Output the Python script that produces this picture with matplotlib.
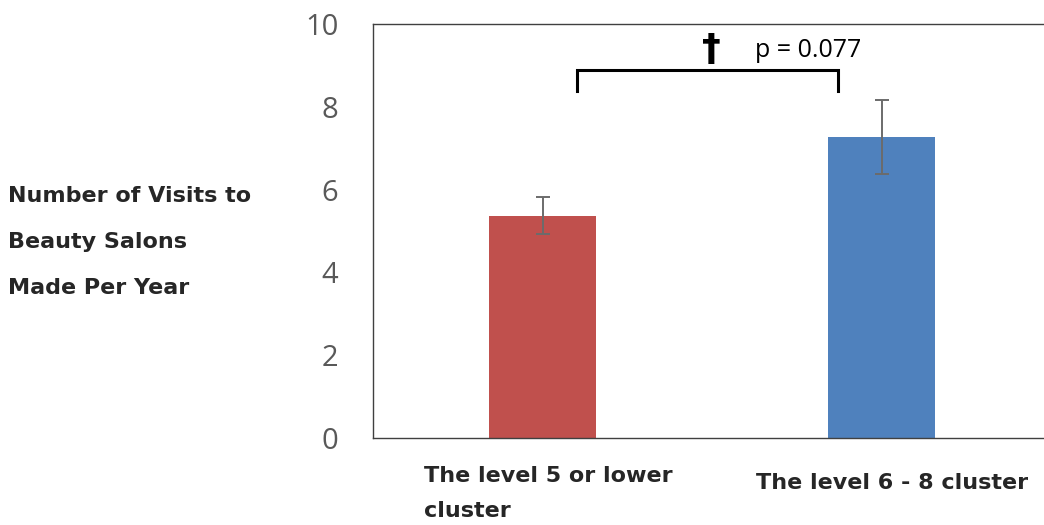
import matplotlib
matplotlib.use("Agg")
import matplotlib.pyplot as plt

categories = ["The level 5 or lower\ncluster", "The level 6 - 8 cluster"]
means = [5.37, 7.27]
errors = [0.45, 0.89]
bar_colors = ["#C0504D", "#4F81BD"]
yticks = [0, 2, 4, 6, 8, 10]
ylabel_lines = ["Number of Visits to", "Beauty Salons", "Made Per Year"]
bracket_x = [0.103, 0.872]
bracket_y = [8.38, 8.89]
p_text = "p = 0.077"

W, H = 1044, 525
fig = plt.figure(figsize=(W / 100, H / 100), dpi=100)
ax = fig.add_axes([373 / W, 1 - 438 / H, (1051 - 373) / W, (438 - 24) / H])

x = list(range(len(categories)))
ax.bar(x, means, width=0.314, color=bar_colors, edgecolor="none", zorder=2)
ax.errorbar(x, means, yerr=errors, fmt="none", ecolor="#6b6b6b",
            elinewidth=1.4, capsize=5, capthick=1.4, zorder=3)

ax.set_xlim(-0.5, 1.5)
ax.set_ylim(0, 10)
ax.set_yticks(yticks)
ax.set_yticklabels([str(v) for v in yticks], fontfamily="Open Sans",
                   fontsize=21, color="#595959")
ax.tick_params(axis="y", length=0, pad=25)
ax.set_xticks([])

for s in ["top", "left", "bottom"]:
    ax.spines[s].set_color("#404040")
    ax.spines[s].set_linewidth(1.0)
ax.spines["right"].set_visible(False)

# category labels
label_offsets = [(0.018, -0.068), (0.032, -0.085)]
for xi, lab, (dx, dy) in zip(x, categories, label_offsets):
    ax.text(xi + dx, dy, lab, transform=ax.get_xaxis_transform(),
            ha="center", va="top", multialignment="left",
            fontfamily="DejaVu Sans", fontweight="bold", fontsize=16,
            color="#262626", linespacing=1.95)

# significance bracket
ax.plot([bracket_x[0], bracket_x[0], bracket_x[1], bracket_x[1]],
        [bracket_y[0], bracket_y[1], bracket_y[1], bracket_y[0]],
        color="black", lw=2.2, solid_joinstyle="miter", clip_on=False, zorder=4)
ax.text(0.498, 9.37, "\u2020", ha="center", va="center", fontsize=27,
        fontweight="bold", fontfamily="DejaVu Sans", color="black")
ax.text(0.627, 9.37, p_text, ha="left", va="center", fontsize=18,
        fontfamily="Open Sans", color="black")

# y label (horizontal, three lines)
fig.text(8 / W, 1 - 242 / H, "\n".join(ylabel_lines), ha="left", va="center",
         fontfamily="DejaVu Sans", fontweight="bold", fontsize=16,
         color="#262626", linespacing=2.6)

fig.savefig("out.png", dpi=100)
